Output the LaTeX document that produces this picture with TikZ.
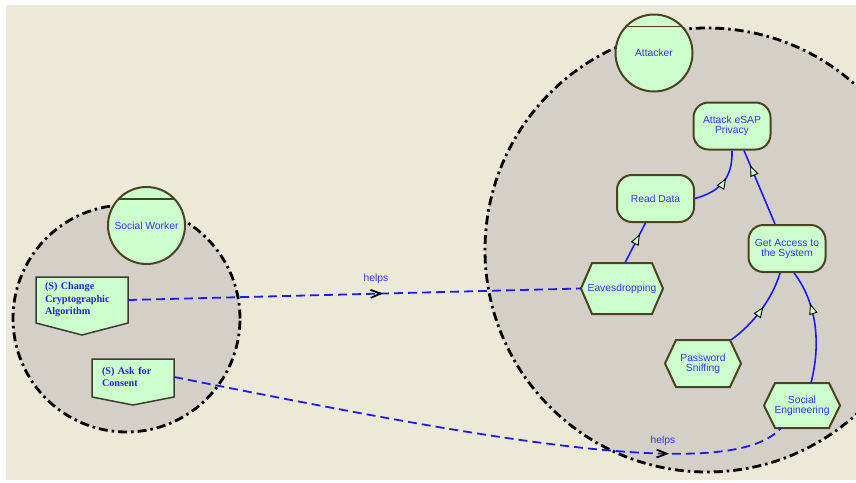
\documentclass[tikz,border=0pt]{standalone}
\usepackage{fontspec}
\setmainfont{Liberation Sans}
\newfontfamily\ksoftfamily{Liberation Serif}
\usetikzlibrary{arrows.meta,decorations.markings}

\definecolor{pagebg}{HTML}{ECE9D8}
\definecolor{boundfill}{HTML}{D4D0C8}
\definecolor{elemfill}{HTML}{CCFFCC}
\definecolor{elemline}{HTML}{4A4420}
\definecolor{softline}{HTML}{3C3C30}
\definecolor{textblue}{HTML}{3333FF}
\definecolor{softblue}{HTML}{2222E6}
\definecolor{linkblue}{HTML}{1A1AFF}

\newcommand\elemfont{\fontsize{10.3}{10}\selectfont}
\newcommand\softelemfont{\ksoftfamily\bfseries\fontsize{10.2}{12.5}\selectfont}
\def\hexinset{11}

% task element: hexagon outline plus a named label node on top
\newcommand\tasknode[6]{% name, x, y, width, height, label
  \draw[taskshape] ({#2-#4/2},#3) -- ({#2-#4/2+\hexinset},{#3-#5/2})
    -- ({#2+#4/2-\hexinset},{#3-#5/2}) -- ({#2+#4/2},#3)
    -- ({#2+#4/2-\hexinset},{#3+#5/2}) -- ({#2-#4/2+\hexinset},{#3+#5/2}) -- cycle;
  \node[tasklabel, minimum width=#4pt, minimum height=#5pt] (#1) at (#2,#3) {#6};}

% softgoal-style element: box with a pointed lower edge
\newcommand\softshapeat[6]{% x, y, width, height, point depth, style
  \draw[#6] ({#1-#3/2},{#2-#4/2}) -- ({#1+#3/2},{#2-#4/2}) -- ({#1+#3/2},{#2+#4/2})
    -- (#1,{#2+#4/2+#5}) -- ({#1-#3/2},{#2+#4/2}) -- cycle;}

\tikzset{
  boundary/.style={circle, draw=black, fill=boundfill, line width=2.8pt,
    dash pattern=on 9pt off 4pt on 2.5pt off 4pt, inner sep=0pt},
  actor/.style={circle, draw=elemline, fill=elemfill, line width=2pt,
    minimum size=77pt, inner sep=0pt, text=textblue, font=\elemfont,
    path picture={\draw[elemline, line width=1.6pt]
      ([yshift=-12pt]path picture bounding box.north west) --
      ([yshift=-12pt]path picture bounding box.north east);}},
  goal/.style={rectangle, rounded corners=15pt, draw=elemline, fill=elemfill,
    line width=2pt, minimum width=77pt, minimum height=47pt, inner sep=0pt,
    align=center, text=textblue, font=\elemfont},
  taskshape/.style={draw=elemline, fill=elemfill, line width=2pt, line join=miter},
  tasklabel/.style={rectangle, inner sep=0pt, align=center, text=textblue, font=\elemfont},
  softshape/.style={draw=softline, fill=elemfill, line width=1.5pt},
  softlabel/.style={rectangle, inner ysep=0pt, align=left, text=softblue, font=\softelemfont},
  linklabel/.style={text=textblue, font=\elemfont, inner sep=0pt},
  meansend/.style={draw=linkblue, line width=1.6pt, postaction={decorate},
    decoration={markings, mark=at position #1 with
      {\arrow{Triangle[length=11pt,width=8.5pt,color=black,fill=elemfill,line width=0.9pt]}}}},
  helpsline/.style={draw=linkblue, line width=1.8pt, dash pattern=on 9pt off 5pt,
    postaction={decorate},
    decoration={markings, mark=at position #1 with
      {\arrow{Straight Barb[length=10pt,width=8pt,line width=1.8pt,color=black]}}}},
}

\begin{document}
\begin{tikzpicture}[x=1pt,y=-1pt]
  % page
  \fill[white] (0,0) rectangle (856,482);
  \fill[pagebg] (6,5) rectangle (856,480);
  \useasboundingbox (0,0) rectangle (856,482);
  \clip (0,0) rectangle (856,482);

  % actor boundaries
  \node[boundary, minimum size=227pt] (swbound) at (126.5,318.5) {};
  \node[boundary, minimum size=444pt] (attbound) at (707,250) {};

  % actors
  \node[actor] (sw) at (146.5,225.5) {Social Worker};
  \node[actor] (att) at (654,53) {Attacker};

  % softgoals inside Social Worker
  \softshapeat{82}{300}{92}{46}{12}{softshape}
  \node[softlabel, inner xsep=9pt, text width=74pt, minimum height=46pt] (cca) at (82,300)
    {(S) Change\\Cryptographic\\Algorithm};
  \softshapeat{133}{378}{82}{38}{8}{softshape}
  \node[softlabel, inner xsep=10pt, text width=62pt, minimum height=38pt] (afc) at (133,377)
    {(S) Ask for\\Consent};

  % goals inside Attacker
  \node[goal] (aep) at (732,126) {Attack eSAP\\Privacy};
  \node[goal] (rd) at (655.5,198.5) {Read Data};
  \node[goal] (ga) at (787,248.5) {Get Access to\\the System};

  % tasks inside Attacker
  \tasknode{eav}{622}{288.5}{82}{51}{Eavesdropping}
  \tasknode{ps}{703}{363.5}{76}{47}{Password\\Sniffing}
  \tasknode{se}{802}{405.5}{76}{45}{Social\\Engineering}

  % contribution links between actors
  \draw[helpsline=0.563] (cca.east) -- (eav.west);
  \node[linklabel] (h1) at (376,279) {helps};
  \draw[helpsline=0.81] (afc.east) .. controls (480,438) and (730,485) ..
    ([xshift=17pt]se.south west);
  \node[linklabel] (h2) at (663,441) {helps};

  % means-end links
  \draw[meansend=0.72] ([xshift=3pt]eav.north) -- ([xshift=-10pt]rd.south);
  \draw[meansend=0.57] (rd.east) .. controls (718,192) and (733,180) .. (aep.south);
  \draw[meansend=0.8] ([xshift=-12pt]ga.north) -- ([xshift=12pt]aep.south);
  \draw[meansend=0.55] ([xshift=-10pt]ps.north east) .. controls (752,325) and (772,300) ..
    ([xshift=-7pt]ga.south);
  \draw[meansend=0.7] ([xshift=9pt]se.north) .. controls (822,340) and (815,300) ..
    ([xshift=7pt]ga.south);
\end{tikzpicture}
\end{document}
